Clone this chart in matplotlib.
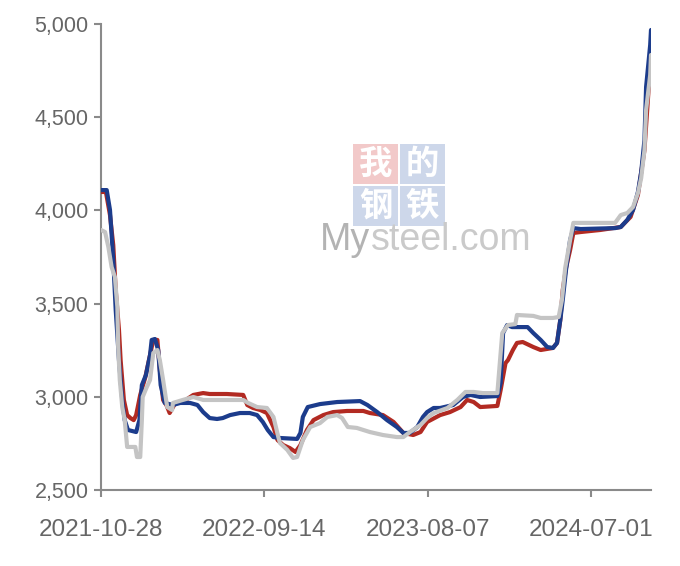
import matplotlib
matplotlib.use("Agg")
import matplotlib.pyplot as plt
from matplotlib.patches import Rectangle
from matplotlib import font_manager

# ---------------- data (category index, value) ----------------
tick_labels = ["2021-10-28", "2022-09-14", "2023-08-07", "2024-07-01"]
tick_positions = [0, 200, 400, 600]
n_last = 673

blue_x = [0, 7, 11, 15, 18, 22, 26, 29, 33, 43, 47, 50, 55, 60, 62, 66, 70, 73, 78, 88, 97, 109, 118, 125,
          133, 142, 149, 158, 170, 182, 191, 198, 204, 211, 219, 240, 244, 247, 253, 268, 289, 317, 326, 338,
          350, 362, 370, 378, 387, 394, 399, 407, 415, 431, 443, 452, 464, 485, 489, 492, 497, 503, 522, 529,
          538, 546, 553, 558, 562, 565, 569, 574, 578, 587, 629, 636, 644, 651, 657, 661, 665, 667, 672, 673]
blue_y = [4109, 4109, 4002, 3734, 3466, 3197, 2983, 2875, 2822, 2811, 2875, 3063, 3117, 3224, 3305, 3310,
          3251, 3063, 2967, 2956, 2967, 2967, 2956, 2918, 2886, 2881, 2886, 2902, 2913, 2913, 2902, 2865,
          2822, 2784, 2779, 2774, 2806, 2892, 2945, 2961, 2972, 2977, 2956, 2918, 2875, 2838, 2806, 2806,
          2838, 2892, 2918, 2940, 2940, 2956, 2999, 3010, 2999, 3004, 3074, 3342, 3385, 3374, 3374, 3342,
          3305, 3267, 3262, 3289, 3412, 3519, 3680, 3841, 3905, 3900, 3905, 3911, 3949, 4002, 4099, 4206,
          4378, 4662, 4887, 4968]

red_x = [0, 6, 11, 15, 18, 22, 24, 28, 32, 36, 40, 43, 48, 54, 60, 64, 69, 72, 76, 80, 84, 91, 100, 113,
         125, 133, 154, 174, 179, 186, 195, 203, 211, 216, 223, 231, 238, 244, 252, 260, 272, 284, 301, 321,
         329, 345, 358, 370, 382, 391, 399, 415, 427, 440, 448, 456, 464, 485, 489, 495, 498, 504, 509, 516,
         529, 538, 553, 558, 562, 565, 569, 574, 578, 587, 611, 636, 648, 657, 665, 670, 673]
red_y = [4099, 4099, 3975, 3814, 3573, 3358, 3197, 2983, 2902, 2886, 2875, 2902, 3010, 3101, 3224, 3305,
         3305, 3144, 2983, 2956, 2913, 2967, 2972, 3010, 3020, 3015, 3015, 3010, 2956, 2940, 2929, 2913,
         2838, 2768, 2741, 2725, 2704, 2741, 2822, 2875, 2902, 2918, 2924, 2924, 2913, 2902, 2865, 2806,
         2795, 2811, 2865, 2902, 2918, 2945, 2983, 2972, 2945, 2951, 3036, 3181, 3197, 3251, 3289, 3294,
         3267, 3251, 3262, 3289, 3412, 3573, 3691, 3787, 3879, 3884, 3895, 3911, 3965, 4083, 4324, 4646,
         4807]

gray_x = [0, 5, 9, 13, 17, 20, 21, 23, 26, 29, 32, 42, 44, 48, 50, 51, 56, 60, 64, 69, 72, 76, 81, 87, 88,
          100, 113, 125, 174, 180, 191, 203, 211, 217, 219, 228, 235, 240, 247, 256, 268, 277, 289, 295, 302,
          313, 329, 345, 362, 370, 378, 391, 399, 407, 424, 436, 446, 456, 467, 485, 491, 498, 507, 509, 529,
          538, 553, 560, 564, 568, 574, 578, 629, 636, 644, 651, 657, 661, 665, 667, 672, 673]
gray_y = [3895, 3884, 3804, 3696, 3643, 3482, 3267, 3090, 2945, 2875, 2731, 2731, 2677, 2677, 2875, 2999,
          3052, 3090, 3235, 3251, 3197, 3090, 2945, 2929, 2967, 2983, 2999, 2983, 2983, 2967, 2945, 2940,
          2892, 2784, 2752, 2715, 2672, 2677, 2768, 2838, 2859, 2892, 2902, 2886, 2838, 2833, 2811, 2795,
          2784, 2784, 2811, 2849, 2886, 2913, 2940, 2983, 3026, 3026, 3020, 3020, 3342, 3385, 3390, 3439,
          3434, 3423, 3423, 3428, 3519, 3691, 3841, 3933, 3933, 3975, 3986, 4018, 4093, 4174, 4324, 4539,
          4726, 4834]

y_ticks = [2500, 3000, 3500, 4000, 4500, 5000]

# ---------------- styling ----------------
names = {f.name for f in font_manager.fontManager.ttflist}
base_font = "Liberation Sans" if "Liberation Sans" in names else "DejaVu Sans"
plt.rcParams["font.family"] = [base_font, "DejaVu Sans"]

AX_COLOR = "#8a8a8a"
TXT_COLOR = "#666666"
BLUE = "#1c3c8c"
RED = "#b22a22"
GRAY = "#c4c4c4"

fig = plt.figure(figsize=(6.8, 5.66), dpi=100)
ax = fig.add_axes([101 / 680, 76 / 566, 550 / 680, 466 / 566])

# watermark
wm_pink = "#f2c9c9"
wm_blue = "#cdd7ea"
boxes = [(353, 144, wm_pink, "我"), (400, 144, wm_blue, "的"),
         (353, 186, wm_blue, "钢"), (400, 186, wm_blue, "铁")]
for bx, by, col, ch in boxes:
    r = Rectangle((bx / 680, 1 - (by + 40) / 566), 45 / 680, 40 / 566,
                  transform=fig.transFigure, facecolor=col, edgecolor="none", zorder=0)
    fig.patches.append(r)
    fig.text((bx + 22.5) / 680, 1 - (by + 20) / 566, ch, ha="center", va="center",
             fontsize=24, color="white", family=["Noto Sans CJK SC", "DejaVu Sans"],
             fontweight="bold", zorder=1)
renderer = fig.canvas.get_renderer()
t_my = fig.text(320 / 680, 1 - 250 / 566, "My", ha="left", va="baseline", fontsize=27,
                color="#b3b3b3", family=[base_font], zorder=1)
ext = t_my.get_window_extent(renderer=renderer)
fig.text((ext.x1 + 0.5) / 680, 1 - 250 / 566, "steel.com", ha="left", va="baseline", fontsize=27,
         color="#cacaca", family=[base_font], zorder=1)
ax.patch.set_alpha(0)

ax.plot(red_x, red_y, color=RED, lw=3.0, solid_joinstyle="round", solid_capstyle="round", zorder=3)
ax.plot(blue_x, blue_y, color=BLUE, lw=3.0, solid_joinstyle="round", solid_capstyle="round", zorder=4)
ax.plot(gray_x, gray_y, color=GRAY, lw=3.0, solid_joinstyle="round", solid_capstyle="round", zorder=5)

ax.set_xlim(0, n_last)
ax.set_ylim(2500, 5000)
ax.set_xticks(tick_positions)
ax.set_xticklabels(tick_labels)
ax.set_yticks(y_ticks)
ax.set_yticklabels([f"{v:,}" for v in y_ticks])

for s in ["top", "right"]:
    ax.spines[s].set_visible(False)
for s in ["left", "bottom"]:
    ax.spines[s].set_color(AX_COLOR)
    ax.spines[s].set_linewidth(1.5)
ax.tick_params(axis="both", colors=AX_COLOR, width=1.5, length=5, labelcolor=TXT_COLOR)
ax.tick_params(axis="y", labelsize=15.5, pad=4)
ax.tick_params(axis="x", labelsize=17.5, pad=16)

fig.savefig("out.png", dpi=100)
